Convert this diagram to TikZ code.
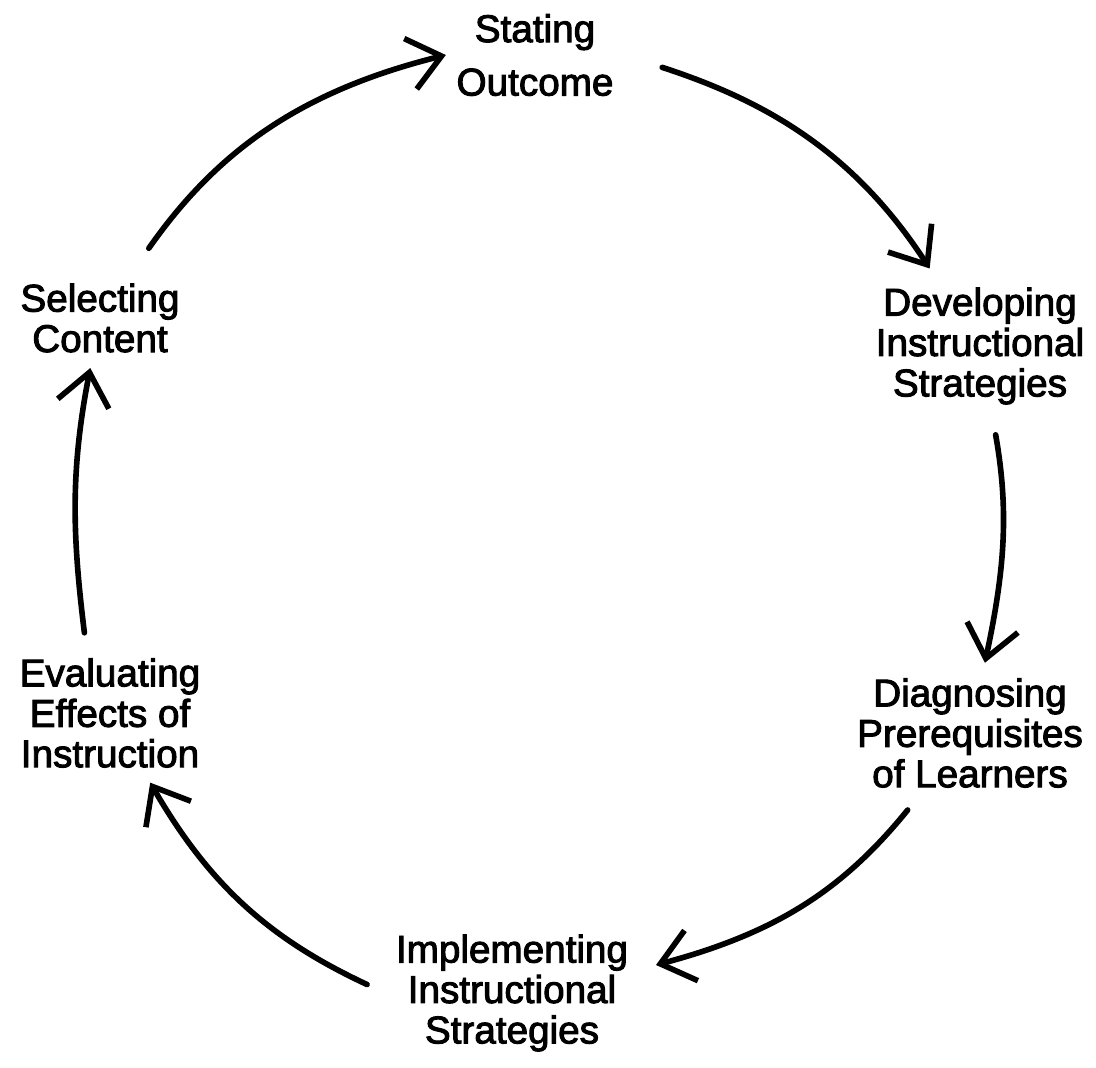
\documentclass[tikz,border=0pt]{standalone}
\usepackage{fontspec}
\newfontfamily\stagefont{Liberation Sans}[BoldFont={Liberation Sans},BoldFeatures={FakeBold=2.5}]
\usepackage{tikz}
\usetikzlibrary{arrows.meta}
\tikzset{>={Straight Barb[length=3.2mm,width=5.2mm,line width=1.6pt]}}
\tikzstyle{stage}=[align=center,inner sep=1mm,font=\stagefont\bfseries\fontsize{11}{11.5}\selectfont]
\tikzstyle{cyc}=[line width=1.6pt,->,line cap=round]

\begin{document}
\begin{tikzpicture}[x=1cm,y=-1cm]
\useasboundingbox (0,0) rectangle (10.96,10.68);

% the six stages round the cycle
\node[stage] (outcome) at (5.35,0.55) {Stating\\[0.13cm]Outcome};
\node[stage] (develop) at (9.80,3.46) {Developing\\Instructional\\Strategies};
\node[stage] (diagnose) at (9.70,7.33) {Diagnosing\\Prerequisites\\of Learners};
\node[stage] (implement) at (5.12,9.93) {Implementing\\Instructional\\Strategies};
\node[stage] (evaluate) at (1.10,7.13) {Evaluating\\Effects of\\Instruction};
\node[stage] (select) at (1.00,3.18) {Selecting\\Content};
\coordinate (implin) at (6.56,9.65);

% arrows, clockwise
\draw[cyc,shorten <=3mm] (select) to[out=55,in=194] (outcome.west);
\draw[cyc,shorten <=4mm,shorten >=1mm] (outcome.east) to[out=-18,in=123] (develop);
\draw[cyc,shorten <=2mm,shorten >=0.5mm] (develop) to[out=-80,in=78] (diagnose);
\draw[cyc,shorten <=1.5mm] (diagnose) to[out=-129,in=15] (implin);
\draw[cyc,shorten <=2mm,shorten >=0.5mm] (implement.west) to[out=155,in=300] (evaluate);
\draw[cyc,shorten <=1.5mm,shorten >=0.5mm] (evaluate.110) to[out=97,in=259] (select);
\end{tikzpicture}
\end{document}
